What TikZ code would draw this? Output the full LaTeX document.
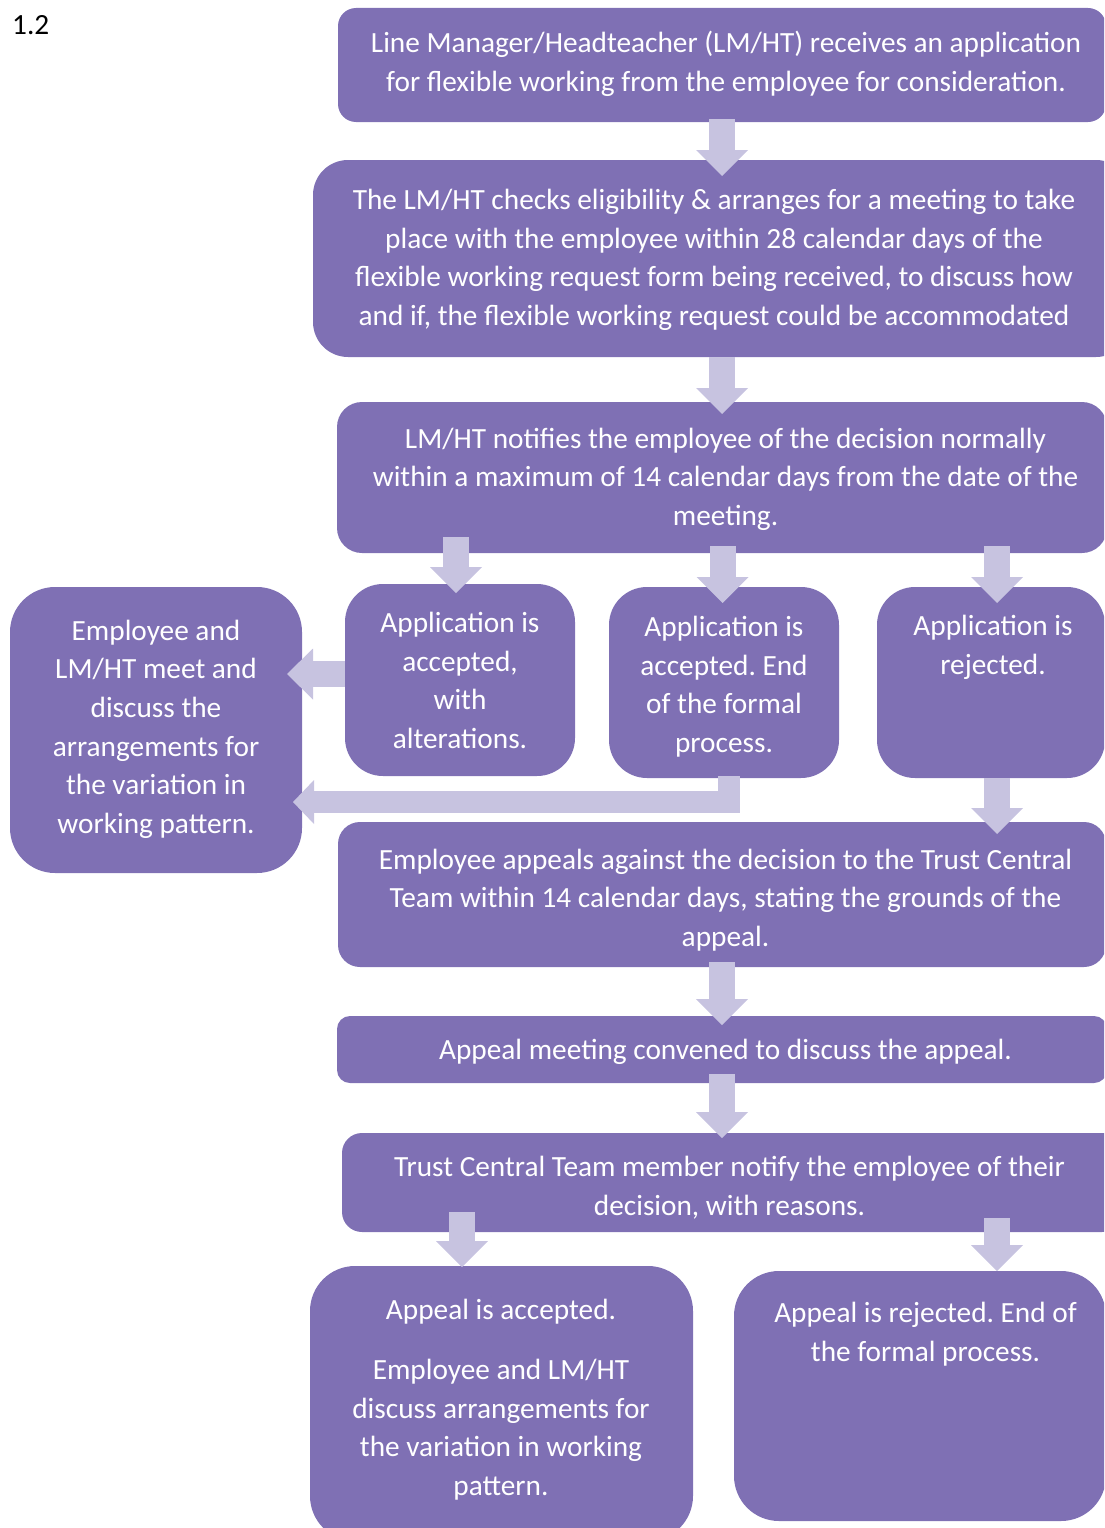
\documentclass[tikz,border=0pt]{standalone}
\usepackage{fontspec}
\setmainfont{Carlito}
\usetikzlibrary{arrows.meta,calc}
\definecolor{boxc}{RGB}{127,112,180}
\definecolor{arrc}{RGB}{199,195,224}
\begin{document}
\frenchspacing
\begin{tikzpicture}[x=1pt,y=-1pt,
  box/.style={fill=boxc, draw=none, rectangle, inner sep=0pt, outer sep=0pt, anchor=north west},
  txt/.style={text=white, align=center, font=\frenchspacing\fontsize{29.3pt}{38.7pt}\selectfont, inner sep=0pt, anchor=base},
  varr/.style={draw=arrc, line width=26pt, -{Triangle[width=52pt,length=26pt,line width=0pt]}},
  harr/.style={draw=arrc, line width=26pt, -{Triangle[width=51pt,length=26pt,line width=0pt]}},
  earr/.style={draw=arrc, line width=22pt, -{Triangle[width=44pt,length=21pt,line width=0pt]}}
]
\useasboundingbox (0,0) rectangle (1104,1528);
\clip (0,0) rectangle (1104,1528);
% boxes
\node[box, rounded corners=18pt, minimum width=768pt, minimum height=114pt] (b1) at (338,8) {};
\node[box, rounded corners=35pt, minimum width=818pt, minimum height=197pt] (b2) at (313,160) {};
\node[box, rounded corners=25pt, minimum width=770pt, minimum height=151pt] (b3) at (337,402) {};
\node[box, rounded corners=38pt, minimum width=230pt, minimum height=192pt] (b4) at (345,584) {};
\node[box, rounded corners=38pt, minimum width=230pt, minimum height=191pt] (b5) at (609,587) {};
\node[box, rounded corners=38pt, minimum width=228pt, minimum height=191pt] (b6) at (877,587) {};
\node[box, rounded corners=45pt, minimum width=292pt, minimum height=286pt] (b7) at (10,587) {};
\node[box, rounded corners=22pt, minimum width=768pt, minimum height=145pt] (b8) at (338,822) {};
\node[box, rounded corners=13pt, minimum width=770pt, minimum height=67pt] (b9) at (337,1016) {};
\node[box, rounded corners=20pt, minimum width=780pt, minimum height=99pt] (b10) at (342,1133) {};
\node[box, rounded corners=45pt, minimum width=383pt, minimum height=275pt] (b11) at (310,1266) {};
\node[box, rounded corners=45pt, minimum width=372pt, minimum height=250pt] (b12) at (734,1271) {};
% arrows
\draw[varr] ($(b1.south)+(0,-3)$) -- ($(b2.north)+(0,16)$);
\draw[varr] (b2.south) -- ($(b3.north)+(0,12)$);
\draw[varr] ($(b4.north |- b3.south)+(-4,-16)$) -- ($(b4.north)+(-4,9)$);
\draw[varr] ($(b5.north |- b3.south)+(-1.5,-7)$) -- ($(b5.north)+(-1.5,16)$);
\draw[varr] ($(b6.north |- b3.south)+(6,-7)$) -- ($(b6.north)+(6,16)$);
\draw[harr] ($(b4.west)+(0,-6)$) -- ($(b7.east |- b4.west)+(-15,-6)$);
\draw[earr] ($(b5.south)+(5,-2)$) |- ($(b7.east)+(-9,72)$);
\draw[varr] ($(b6.south)+(6,0)$) -- ($(b6.south |- b8.north)+(6,12)$);
\draw[varr] ($(b8.south)+(0,-5)$) -- ($(b9.north)+(0,9)$);
\draw[varr] ($(b9.south)+(0,-9)$) -- ($(b9.south |- b10.north)+(0,5)$);
\draw[varr] ($(b11.north |- b10.south)+(-39.5,-20)$) -- ($(b11.north)+(-39.5,1)$);
\draw[varr] ($(b12.north |- b10.south)+(77,-14)$) -- ($(b12.north)+(77,0)$);
% texts (anchor base = baseline of the last line)
\node[txt, text=black, anchor=base west] (n0) at (12,35) {1.2};
\node[txt] (t1) at (726,91.5) {Line Manager/Headteacher (LM/HT) receives an application\\for flexible working from the employee for consideration.};
\node[txt] (t2) at (714,325.5) {The LM/HT checks eligibility \& arranges for a meeting to take\\place with the employee within 28 calendar days of the\\flexible working request form being received, to discuss how\\and if, the flexible working request could be accommodated};
\node[txt] (t3) at (725.5,525.5) {LM/HT notifies the employee of the decision normally\\within a maximum of 14 calendar days from the date of the\\meeting.};
\node[txt] (t4) at (460,748.5) {Application is\\accepted,\\with\\alterations.};
\node[txt] (t5) at (724,752.5) {Application is\\accepted. End\\of the formal\\process.};
\node[txt] (t6) at (993,674.5) {Application is\\rejected.};
\node[txt] (t7) at (156,833.5) {Employee and\\LM/HT meet and\\discuss the\\arrangements for\\the variation in\\working pattern.};
\node[txt] (t8) at (725.5,946.5) {Employee appeals against the decision to the Trust Central\\Team within 14 calendar days, stating the grounds of the\\appeal.};
\node[txt] (t9) at (725.5,1059.5) {Appeal meeting convened to discuss the appeal.};
\node[txt] (t10) at (729.5,1215.5) {Trust Central Team member notify the employee of their\\decision, with reasons.};
\node[txt] (t11) at (501,1495.5) {Appeal is accepted.\\[21.6pt]Employee and LM/HT\\discuss arrangements for\\the variation in working\\pattern.};
\node[txt] (t12) at (925.5,1361.5) {Appeal is rejected. End of\\the formal process.};
\end{tikzpicture}
\end{document}
